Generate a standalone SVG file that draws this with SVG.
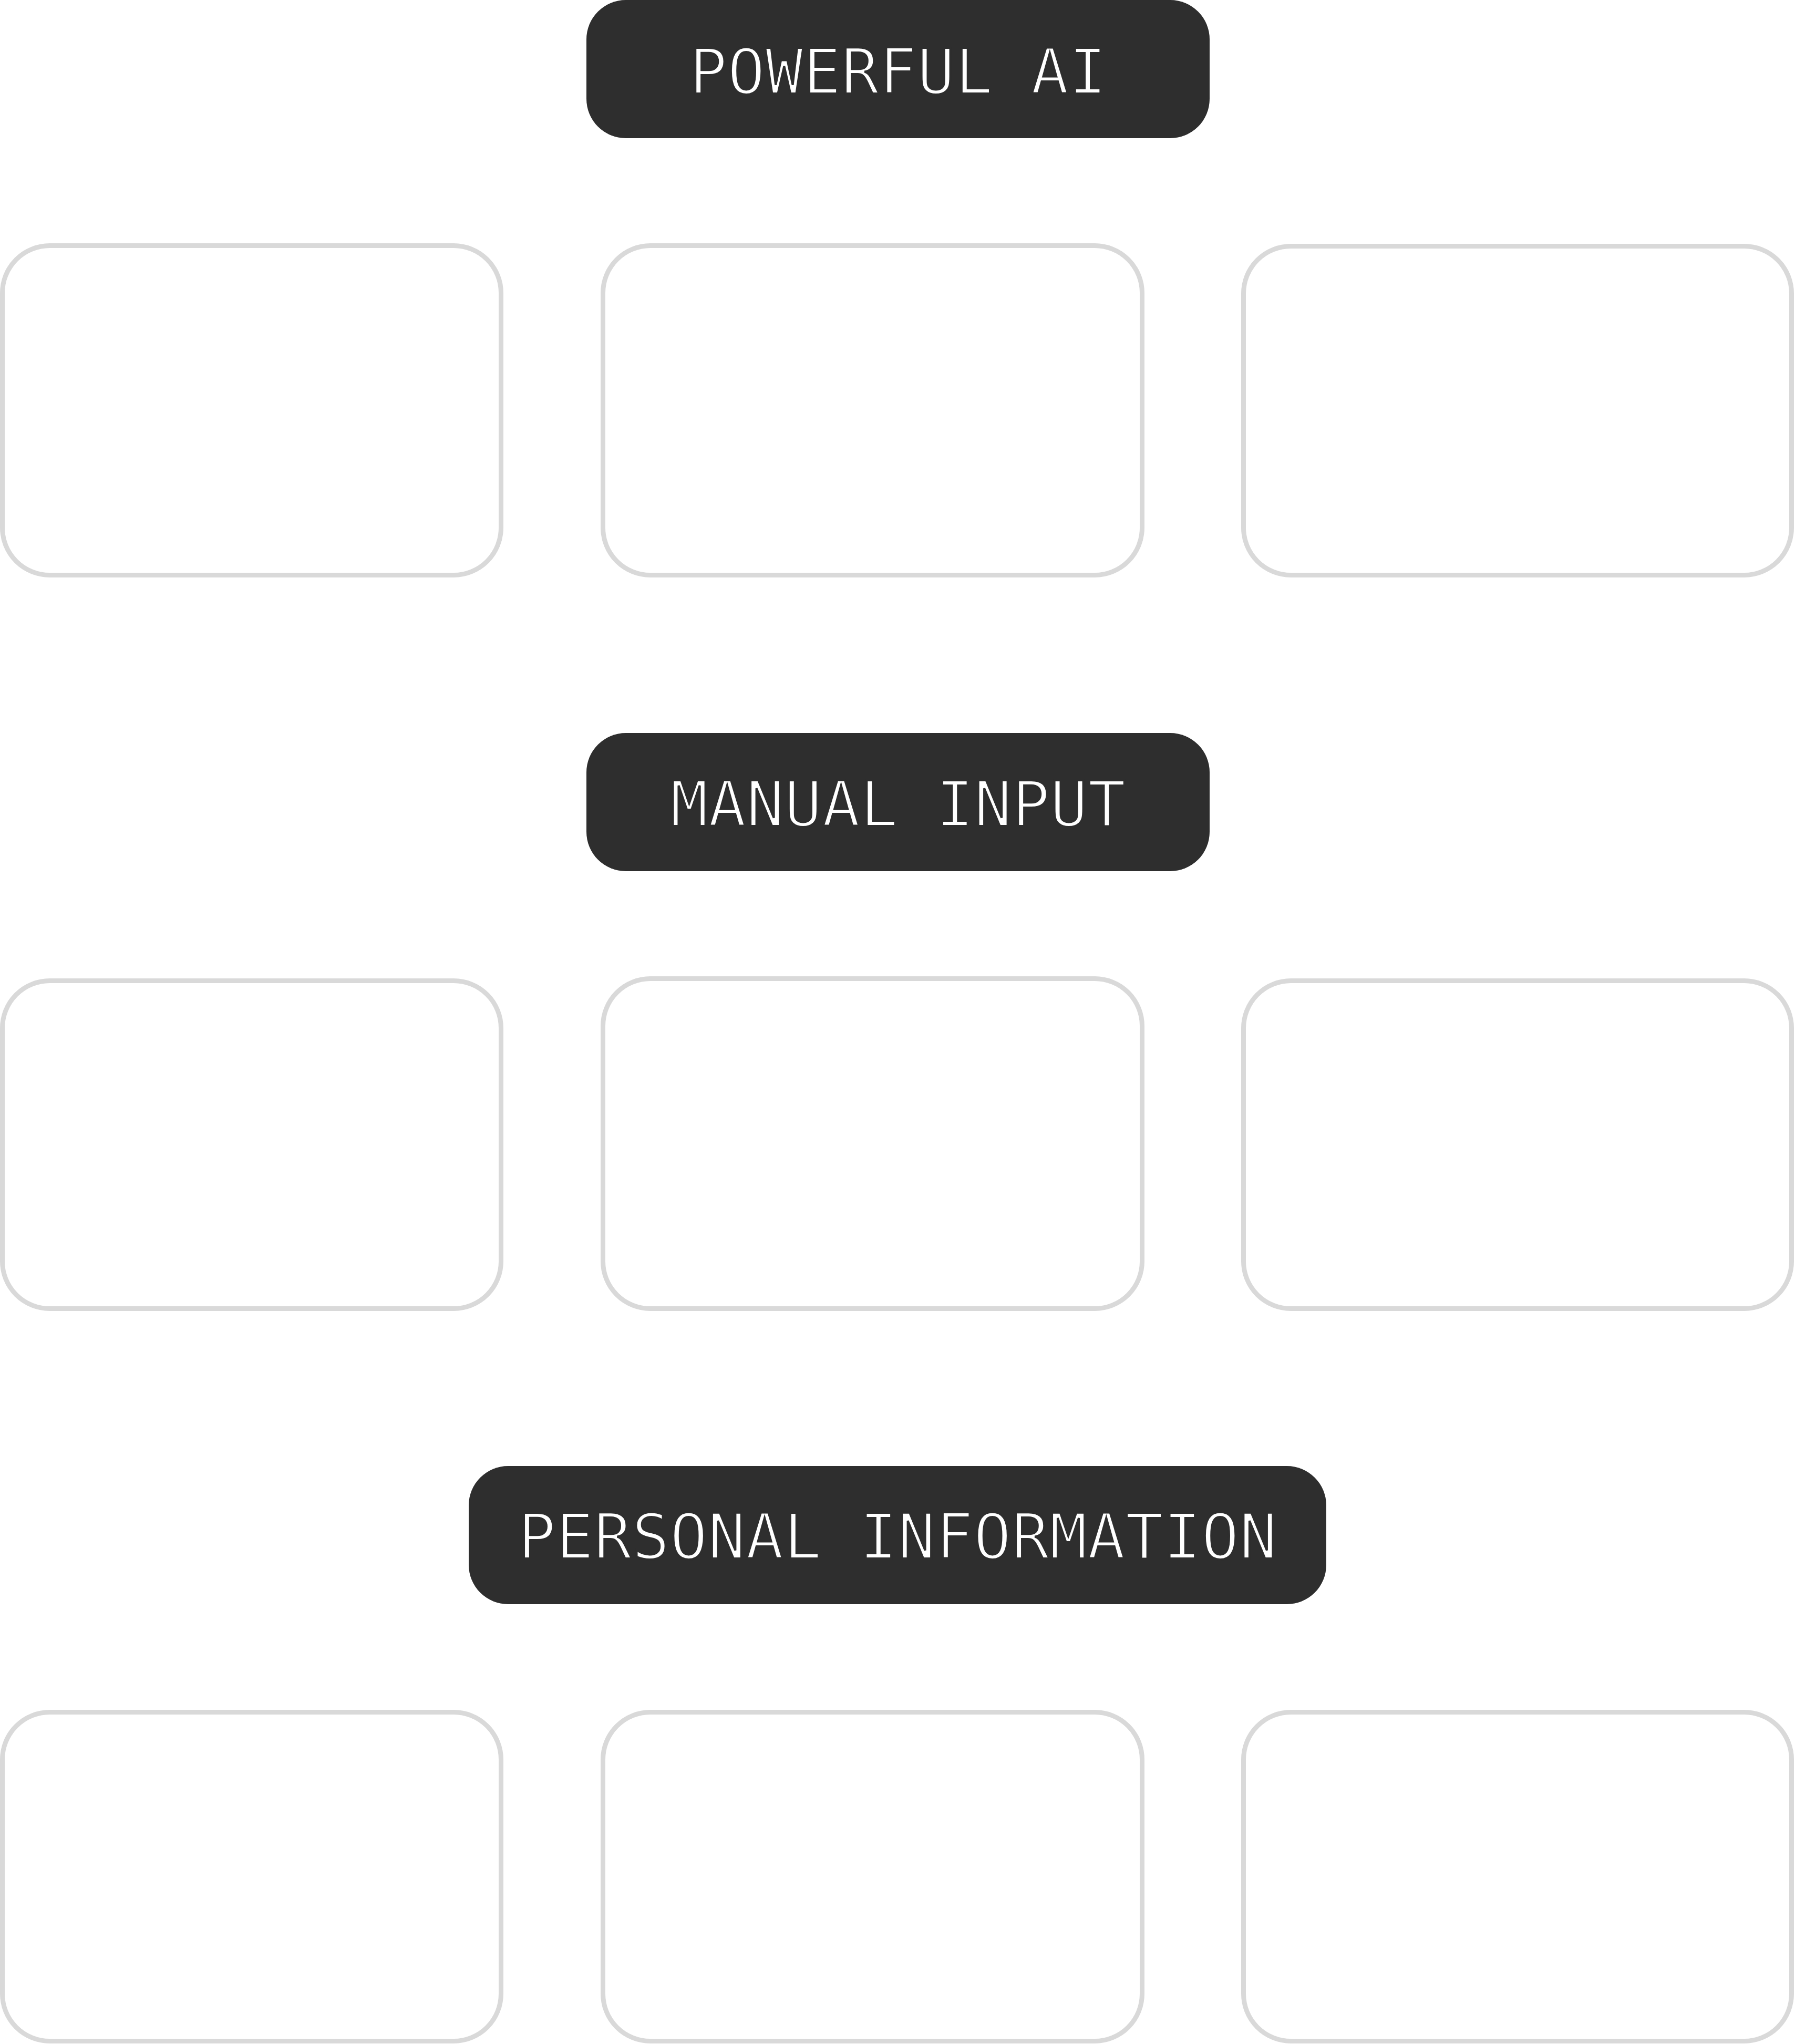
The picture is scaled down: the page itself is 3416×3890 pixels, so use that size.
<svg xmlns="http://www.w3.org/2000/svg" width="3416" height="3890" viewBox="0 0 3416 3890">
<style>
.hdr{fill:#2e2e2e}
.hdrt{font-family:"DejaVu Sans Mono","Liberation Mono",monospace;font-size:120px;fill:#ffffff;stroke:#2e2e2e;stroke-width:4;text-anchor:middle}
.card{fill:#ffffff;stroke:#d9d9d9;stroke-width:9}
.ct{font-family:Inter,"Liberation Sans",sans-serif;font-size:100px;fill:#ffffff;text-anchor:middle}
</style>
<rect width="3416" height="3890" fill="#ffffff"/>
<g id="connectors"></g>

<g id="h-powerful-ai">
<rect class="hdr" x="1116" y="0" width="1186" height="263" rx="75"/>
<text class="hdrt" x="1709" y="178">POWERFUL AI</text>
</g>
<g id="h-manual-input">
<rect class="hdr" x="1116" y="1395" width="1186" height="263" rx="75"/>
<text class="hdrt" x="1709" y="1572">MANUAL INPUT</text>
</g>
<g id="h-personal-information">
<rect class="hdr" x="892" y="2790" width="1632" height="263" rx="75"/>
<text class="hdrt" x="1708" y="2966">PERSONAL INFORMATION</text>
</g>

<g id="c1">
<rect class="card" x="4.5" y="467.5" width="949" height="627" rx="90"/>
<text class="ct" x="479" y="689">Diagnose plant</text>
<text class="ct" x="479" y="817">issues based</text>
<text class="ct" x="479" y="946">on input</text>
</g>
<g id="c2">
<rect class="card" x="1147.5" y="467.5" width="1026" height="627" rx="90"/>
<text class="ct" x="1660" y="689">Strong database</text>
<text class="ct" x="1660" y="817">of plants for</text>
<text class="ct" x="1660" y="946">intuitive search</text>
</g>
<g id="c3">
<rect class="card" x="2366.5" y="468.5" width="1043" height="626" rx="90"/>
<text class="ct" x="2888" y="623">Accurate</text>
<text class="ct" x="2888" y="752">identification</text>
<text class="ct" x="2888" y="880">from image</text>
<text class="ct" x="2888" y="1009">recognition</text>
</g>

<g id="c4">
<rect class="card" x="4.5" y="1866.5" width="949" height="624" rx="90"/>
<text class="ct" x="479" y="2086">The app must</text>
<text class="ct" x="479" y="2215">know the</text>
<text class="ct" x="479" y="2341">plant's location.</text>
</g>
<g id="c5">
<rect class="card" x="1147.5" y="1862.5" width="1026" height="628" rx="90"/>
<text class="ct" x="1660" y="2020">App needs to be</text>
<text class="ct" x="1660" y="2148">simple. User</text>
<text class="ct" x="1660" y="2277">input too</text>
<text class="ct" x="1660" y="2406">cumbersome?</text>
</g>
<g id="c6">
<rect class="card" x="2366.5" y="1866.5" width="1043" height="624" rx="90"/>
<text class="ct" x="2888" y="2086">Manually</text>
<text class="ct" x="2888" y="2215">connecting plants</text>
<text class="ct" x="2888" y="2341">care info.</text>
</g>

<g id="c7">
<rect class="card" x="4.5" y="3258.5" width="949" height="626" rx="90"/>
<text class="ct" x="479" y="3416">Requires to</text>
<text class="ct" x="479" y="3545">make account.</text>
<text class="ct" x="479" y="3673">Continue as</text>
<text class="ct" x="479" y="3802">guest option?</text>
</g>
<g id="c8">
<rect class="card" x="1147.5" y="3258.5" width="1026" height="626" rx="90"/>
<text class="ct" x="1660" y="3416">Heavily reliant on</text>
<text class="ct" x="1660" y="3545">notifications</text>
<text class="ct" x="1660" y="3673">users must</text>
<text class="ct" x="1660" y="3802">accept.</text>
</g>
<g id="c9">
<rect class="card" x="2366.5" y="3258.5" width="1043" height="626" rx="90"/>
<text class="ct" x="2888" y="3478">Relies on location</text>
<text class="ct" x="2888" y="3607">services to</text>
<text class="ct" x="2888" y="3735">detect weather.</text>
</g>
</svg>
